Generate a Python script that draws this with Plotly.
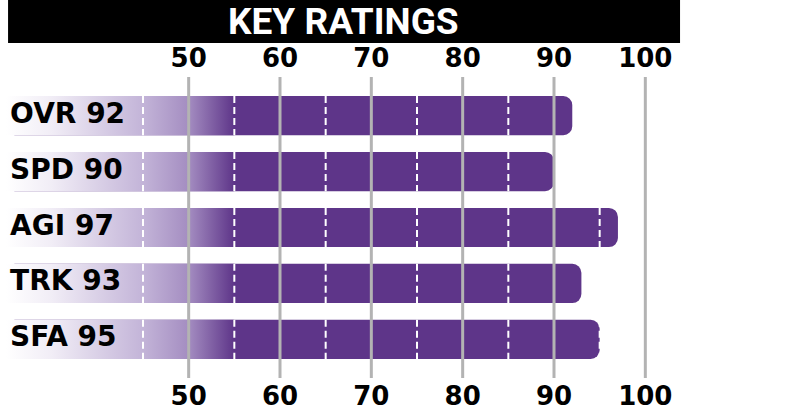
import plotly.graph_objects as go

# Dados do gráfico
categorias = ["OVR", "SPD", "AGI", "TRK", "SFA"]
notas = [92, 90, 97, 93, 95]
ticks = [50, 60, 70, 80, 90, 100]
tracejados = [45, 55, 65, 75, 85, 95]

base = 30
roxo = "#5e3589"
largura = 0.7
posicoes = list(range(len(categorias)))

fig = go.Figure()

# Barras sólidas com a ponta arredondada
fig.add_trace(go.Bar(x=[n - base for n in notas], y=posicoes, base=base, orientation="h", width=largura,
                     marker=dict(color=roxo, cornerradius=9, line=dict(width=0)), hoverinfo="skip"))

# Degradê no começo de cada barra
for p in posicoes:
    y0, y1 = p - largura / 2, p + largura / 2
    fig.add_trace(go.Scatter(x=[base, 55, 55, base, base], y=[y0, y0, y1, y1, y0], mode="lines",
                             line=dict(width=0), fill="toself", hoverinfo="skip",
                             fillgradient=dict(type="horizontal", start=base, stop=55,
                                               colorscale=[[0, "#ffffff"], [0.2, "#f1edf6"], [0.6, "#c3b4d8"],
                                                           [0.8, "#a48dc1"], [1, roxo]])))

# Linhas brancas tracejadas dentro das barras
xs, ys = [], []
for p, n in zip(posicoes, notas):
    for d in tracejados:
        if d <= n:
            xs += [d, d, None]
            ys += [p - largura / 2, p + largura / 2, None]
fig.add_trace(go.Scatter(x=xs, y=ys, mode="lines", line=dict(color="white", width=2, dash="7px,4px"),
                         hoverinfo="skip"))

# Rótulos das categorias (um pouco para dentro da barra)
fig.add_trace(go.Scatter(x=[base + 0.45] * len(notas), y=posicoes, mode="text",
                         text=[f"{c} {n}" for c, n in zip(categorias, notas)], textposition="middle right",
                         textfont=dict(family="DejaVu Sans", size=28, color="black", weight="bold"),
                         hoverinfo="skip"))

# Traço invisível para o eixo de baixo
fig.add_trace(go.Scatter(x=[base], y=[0], xaxis="x2", mode="markers", marker=dict(opacity=0), hoverinfo="skip"))

# Linhas de grade por cima das barras
for t in ticks:
    fig.add_shape(type="line", xref="x", yref="paper", x0=t, x1=t, y0=0, y1=1,
                  line=dict(color="#b3b3b3", width=3), layer="above")

# Faixa preta do título
fig.add_shape(type="rect", xref="paper", yref="paper", x0=0.003, x1=0.984, y0=1.113, y1=1.256,
              fillcolor="black", line=dict(width=0), layer="above")
fig.add_annotation(text="KEY RATINGS", xref="paper", yref="paper", x=0.492, y=1.183, showarrow=False,
                   xanchor="center", yanchor="middle",
                   font=dict(family="Roboto", size=37, color="white", weight="bold"))

fonte_ticks = dict(family="DejaVu Sans", size=26, color="black", weight="bold")
fig.update_layout(
    width=785, height=415,
    margin=dict(l=6, r=94, t=77, b=37),
    plot_bgcolor="white", paper_bgcolor="white",
    showlegend=False,
    xaxis=dict(range=[base, 105], side="top", tickvals=ticks, tickfont=fonte_ticks, showgrid=False,
               zeroline=False, showline=False, ticks="", ticklabelstandoff=4, automargin=False),
    xaxis2=dict(overlaying="x", matches="x", side="bottom", tickvals=ticks, tickfont=fonte_ticks,
                showgrid=False, zeroline=False, showline=False, ticks="", automargin=False),
    yaxis=dict(range=[4.69, -0.69], visible=False),
)

# Tira a margem padrão da página para a figura ficar no canto
fig.write_html("out.html", config={"displayModeBar": False},
               post_script="document.body.style.margin = '0';")
